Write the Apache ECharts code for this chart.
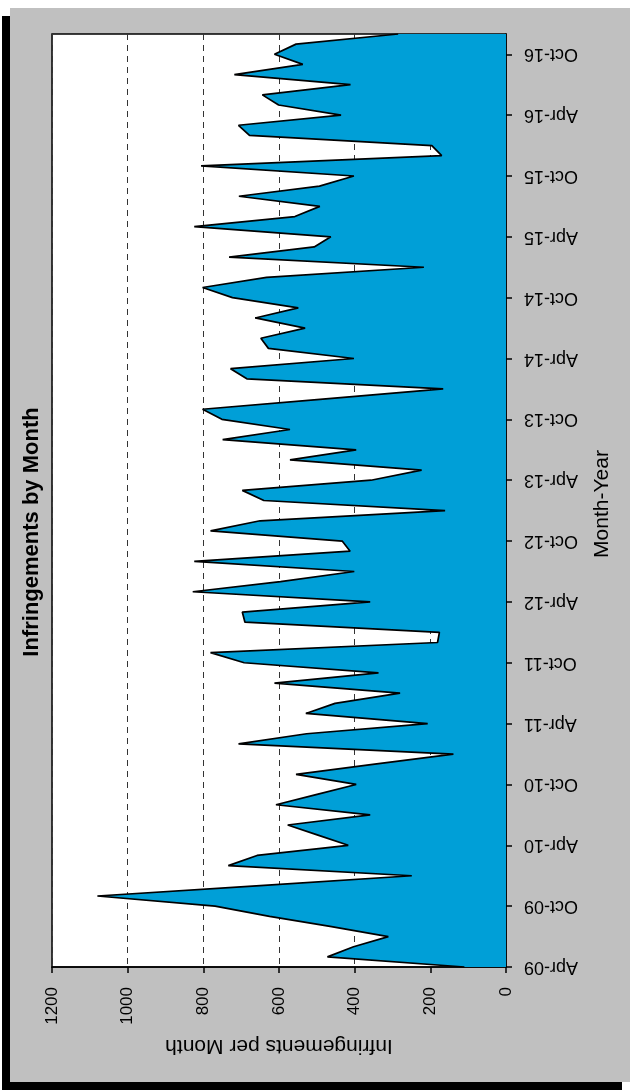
<!DOCTYPE html>
<html>
<head>
<meta charset="utf-8">
<style>
html,body{margin:0;padding:0;background:#fff;}
#chart{width:639px;height:1090px;}
</style>
<script src="https://cdn.jsdelivr.net/npm/echarts@6/dist/echarts.min.js"></script>
</head>
<body>
<div id="chart"></div>
<script>
const years = ['09','10','11','12','13','14','15','16'];
const monthNames = ['Jan','Feb','Mar','Apr','May','Jun','Jul','Aug','Sep','Oct','Nov','Dec'];
const months = [];
years.forEach(function (y, yi) {
  monthNames.forEach(function (m, mi) {
    if (yi === 0 && mi < 3) return;
    months.push(m + '-' + y);
  });
});

const infringements = [
  110, 472, 403, 311, 465, 625, 769, 1080, 660,
  249, 734, 658, 417, 497, 577, 359, 608, 502, 396, 555, 347,
  139, 707, 527, 207, 529, 452, 280, 612, 337, 692, 781, 181,
  176, 690, 697, 359, 828, 596, 401, 824, 412, 433, 781, 650,
  161, 640, 697, 357, 223, 571, 396, 749, 571, 751, 802, 484,
  166, 685, 728, 402, 628, 648, 531, 663, 549, 723, 802, 633,
  217, 732, 507, 463, 824, 558, 492, 706, 493, 402, 806, 170,
  196, 678, 707, 436, 601, 644, 411, 718, 537, 612, 555, 285
];

const valueTicks = [0, 200, 400, 600, 800, 1000, 1200];

const FONT = '"Liberation Sans", Arial, sans-serif';
const chart = echarts.init(document.getElementById('chart'));
const labelEvery6 = function (i) { return i % 6 === 0; };

chart.setOption({
  backgroundColor: 'transparent',
  animation: false,
  graphic: [
    { type: 'rect', z: -10, shape: { x: 2, y: 16, width: 620, height: 1074 }, style: { fill: '#000' } },
    { type: 'rect', z: -9, shape: { x: 10, y: 8, width: 620, height: 1074 }, style: { fill: '#c0c0c0' } },
    { type: 'text', x: 32, y: 532, rotation: Math.PI / 2,
      style: { text: 'Infringements by Month', font: 'bold 22px ' + FONT, fill: '#000', textAlign: 'center', textVerticalAlign: 'middle' } },
    { type: 'text', x: 279, y: 1046, rotation: Math.PI,
      style: { text: 'Infringements per Month', font: '21px ' + FONT, fill: '#000', textAlign: 'center', textVerticalAlign: 'middle' } },
    { type: 'text', x: 602, y: 504, rotation: Math.PI / 2,
      style: { text: 'Month-Year', font: '21px ' + FONT, fill: '#000', textAlign: 'center', textVerticalAlign: 'middle' } }
  ],
  grid: {
    left: 52, top: 34, width: 454, height: 933,
    show: true, backgroundColor: '#fff', borderColor: '#000', borderWidth: 1.5
  },
  xAxis: {
    type: 'value', inverse: true, position: 'bottom',
    min: valueTicks[0], max: valueTicks[valueTicks.length - 1], interval: 200,
    axisLine: { show: true, onZero: false, lineStyle: { color: '#000', width: 1.5 } },
    axisTick: { show: true, length: 6, lineStyle: { color: '#000', width: 1.5 } },
    axisLabel: { rotate: 90, margin: 20, color: '#000', fontSize: 17, fontFamily: FONT,
      formatter: function (v) { return String(v); } },
    splitLine: { show: true, lineStyle: { color: '#333', width: 1, type: [6, 5] } }
  },
  yAxis: {
    type: 'category', position: 'right', data: months, boundaryGap: false,
    axisLine: { show: true, onZero: false, lineStyle: { color: '#000', width: 1.5 } },
    axisTick: { show: true, length: 6, interval: labelEvery6, lineStyle: { color: '#000', width: 1.5 } },
    axisLabel: { interval: labelEvery6, rotate: 180, margin: 18, color: '#000', fontSize: 18, fontFamily: FONT },
    splitLine: { show: false }
  },
  series: [{
    type: 'line', data: infringements, symbol: 'none',
    lineStyle: { color: '#000', width: 1.7 },
    areaStyle: { color: '#009fd7', opacity: 1 },
    z: 3
  }]
});
</script>
</body>
</html>
